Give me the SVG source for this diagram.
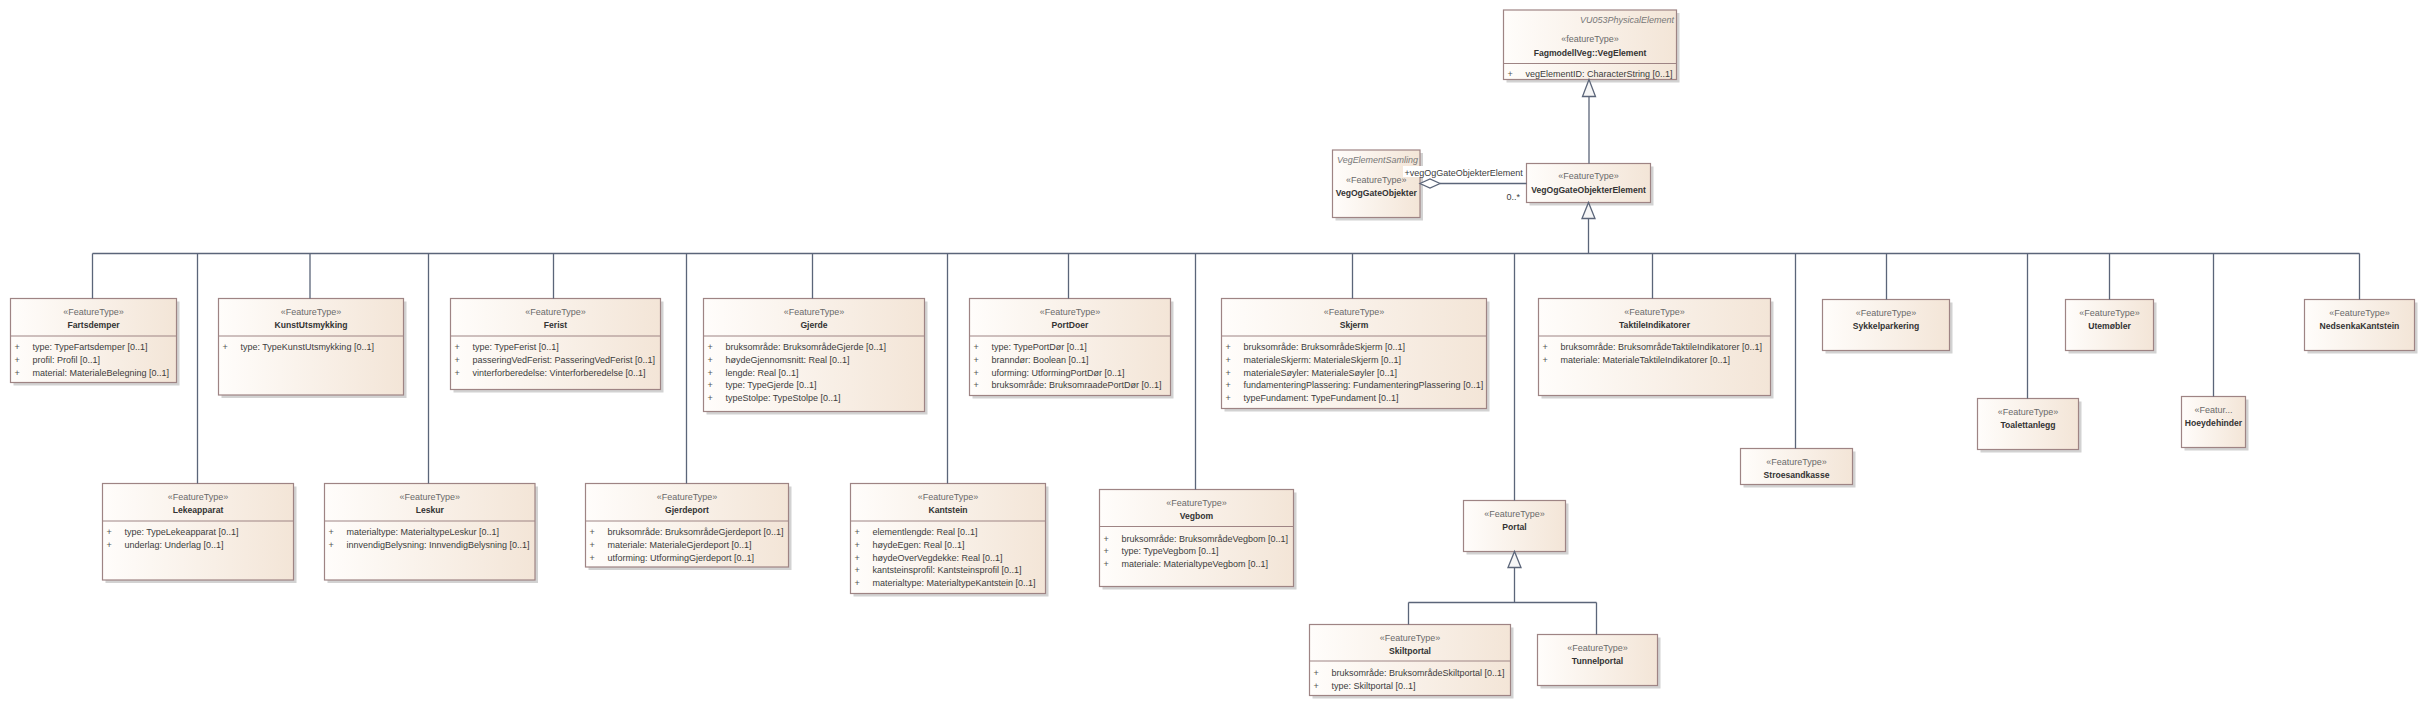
<svg xmlns="http://www.w3.org/2000/svg" width="2425" height="706" viewBox="0 0 2425 706">
<defs>
<linearGradient id="g" x1="0" y1="0" x2="1" y2="0">
<stop offset="0" stop-color="#FFFDFB"/>
<stop offset="1" stop-color="#F3E5D7"/>
</linearGradient>
</defs>
<style>
text{font-family:"Liberation Sans",Arial,sans-serif;font-size:9px;fill:#3C3C3C}
.sh{fill:#D2D2D2}
.bx{fill:url(#g);stroke:#9E8484;stroke-width:1.2}
.sp{stroke:#9E8484;stroke-width:1}
.st{text-anchor:middle;fill:#6A6A6A}
.nm{text-anchor:middle;font-weight:bold;font-size:8.6px;fill:#333}
.tg{text-anchor:end;font-style:italic;fill:#777}
.pl{fill:#555}
.ln{fill:none;stroke:#5B6579;stroke-width:1.3}
.tri{fill:#F6F6F6;stroke:#5B6579;stroke-width:1.3}
</style>
<rect width="2425" height="706" fill="#FFFFFF"/>

<g id="VegElement">
<rect class="sh" x="1506.5" y="13" width="173" height="69.5"/>
<rect class="bx" x="1503.5" y="10" width="173" height="69.5"/>
<line class="sp" x1="1503.5" y1="63.5" x2="1676.5" y2="63.5"/>
<text class="tg" x="1674" y="23">VU053PhysicalElement</text>
<text class="st" x="1590" y="42">«featureType»</text>
<text class="nm" x="1590" y="55.5">FagmodellVeg::VegElement</text>
<text class="pl" x="1507.5" y="77">+</text><text x="1525.5" y="77">vegElementID: CharacterString [0..1]</text>
</g>

<g id="VegOgGateObjekter">
<rect class="sh" x="1335.5" y="153" width="87.5" height="67.5"/>
<rect class="bx" x="1332.5" y="150" width="87.5" height="67.5"/>
<text class="tg" x="1418" y="163" textLength="81" lengthAdjust="spacingAndGlyphs">VegElementSamling</text>
<text class="st" x="1376.25" y="182.5">«FeatureType»</text>
<text class="nm" x="1376.25" y="195.5">VegOgGateObjekter</text>
</g>

<g id="VegOgGateObjekterElement">
<rect class="sh" x="1529.5" y="166.5" width="124" height="39"/>
<rect class="bx" x="1526.5" y="163.5" width="124" height="39"/>
<text class="st" x="1588.5" y="179">«FeatureType»</text>
<text class="nm" x="1588.5" y="192.5">VegOgGateObjekterElement</text>
</g>

<g id="Fartsdemper">
<rect class="sh" x="13.5" y="301.5" width="166" height="84"/>
<rect class="bx" x="10.5" y="298.5" width="166" height="84"/>
<line class="sp" x1="10.5" y1="336" x2="176.5" y2="336"/>
<text class="st" x="93.5" y="314.5">«FeatureType»</text>
<text class="nm" x="93.5" y="327.5">Fartsdemper</text>
<text class="pl" x="14.5" y="350">+</text><text x="32.5" y="350">type: TypeFartsdemper [0..1]</text>
<text class="pl" x="14.5" y="362.8">+</text><text x="32.5" y="362.8">profil: Profil [0..1]</text>
<text class="pl" x="14.5" y="375.6">+</text><text x="32.5" y="375.6">material: MaterialeBelegning [0..1]</text>
</g>

<g id="KunstUtsmykking">
<rect class="sh" x="221.5" y="301.5" width="185" height="96.5"/>
<rect class="bx" x="218.5" y="298.5" width="185" height="96.5"/>
<line class="sp" x1="218.5" y1="336" x2="403.5" y2="336"/>
<text class="st" x="311" y="314.5">«FeatureType»</text>
<text class="nm" x="311" y="327.5">KunstUtsmykking</text>
<text class="pl" x="222.5" y="350">+</text><text x="240.5" y="350">type: TypeKunstUtsmykking [0..1]</text>
</g>

<g id="Ferist">
<rect class="sh" x="453.5" y="301.5" width="210" height="91"/>
<rect class="bx" x="450.5" y="298.5" width="210" height="91"/>
<line class="sp" x1="450.5" y1="336" x2="660.5" y2="336"/>
<text class="st" x="555.5" y="314.5">«FeatureType»</text>
<text class="nm" x="555.5" y="327.5">Ferist</text>
<text class="pl" x="454.5" y="350">+</text><text x="472.5" y="350">type: TypeFerist [0..1]</text>
<text class="pl" x="454.5" y="362.8">+</text><text x="472.5" y="362.8">passeringVedFerist: PasseringVedFerist [0..1]</text>
<text class="pl" x="454.5" y="375.6">+</text><text x="472.5" y="375.6">vinterforberedelse: Vinterforberedelse [0..1]</text>
</g>

<g id="Gjerde">
<rect class="sh" x="706.5" y="301.5" width="221" height="113"/>
<rect class="bx" x="703.5" y="298.5" width="221" height="113"/>
<line class="sp" x1="703.5" y1="336" x2="924.5" y2="336"/>
<text class="st" x="814" y="314.5">«FeatureType»</text>
<text class="nm" x="814" y="327.5">Gjerde</text>
<text class="pl" x="707.5" y="350">+</text><text x="725.5" y="350">bruksområde: BruksområdeGjerde [0..1]</text>
<text class="pl" x="707.5" y="362.8">+</text><text x="725.5" y="362.8">høydeGjennomsnitt: Real [0..1]</text>
<text class="pl" x="707.5" y="375.6">+</text><text x="725.5" y="375.6">lengde: Real [0..1]</text>
<text class="pl" x="707.5" y="388.4">+</text><text x="725.5" y="388.4">type: TypeGjerde [0..1]</text>
<text class="pl" x="707.5" y="401.2">+</text><text x="725.5" y="401.2">typeStolpe: TypeStolpe [0..1]</text>
</g>

<g id="PortDoer">
<rect class="sh" x="972.5" y="301.5" width="201" height="97"/>
<rect class="bx" x="969.5" y="298.5" width="201" height="97"/>
<line class="sp" x1="969.5" y1="336" x2="1170.5" y2="336"/>
<text class="st" x="1070" y="314.5">«FeatureType»</text>
<text class="nm" x="1070" y="327.5">PortDoer</text>
<text class="pl" x="973.5" y="350">+</text><text x="991.5" y="350">type: TypePortDør [0..1]</text>
<text class="pl" x="973.5" y="362.8">+</text><text x="991.5" y="362.8">branndør: Boolean [0..1]</text>
<text class="pl" x="973.5" y="375.6">+</text><text x="991.5" y="375.6">uforming: UtformingPortDør [0..1]</text>
<text class="pl" x="973.5" y="388.4">+</text><text x="991.5" y="388.4">bruksområde: BruksomraadePortDør [0..1]</text>
</g>

<g id="Skjerm">
<rect class="sh" x="1224.5" y="301.5" width="265" height="110"/>
<rect class="bx" x="1221.5" y="298.5" width="265" height="110"/>
<line class="sp" x1="1221.5" y1="336" x2="1486.5" y2="336"/>
<text class="st" x="1354" y="314.5">«FeatureType»</text>
<text class="nm" x="1354" y="327.5">Skjerm</text>
<text class="pl" x="1225.5" y="350">+</text><text x="1243.5" y="350">bruksområde: BruksområdeSkjerm [0..1]</text>
<text class="pl" x="1225.5" y="362.8">+</text><text x="1243.5" y="362.8">materialeSkjerm: MaterialeSkjerm [0..1]</text>
<text class="pl" x="1225.5" y="375.6">+</text><text x="1243.5" y="375.6">materialeSøyler: MaterialeSøyler [0..1]</text>
<text class="pl" x="1225.5" y="388.4">+</text><text x="1243.5" y="388.4">fundamenteringPlassering: FundamenteringPlassering [0..1]</text>
<text class="pl" x="1225.5" y="401.2">+</text><text x="1243.5" y="401.2">typeFundament: TypeFundament [0..1]</text>
</g>

<g id="TaktileIndikatorer">
<rect class="sh" x="1541.5" y="301.5" width="232" height="97"/>
<rect class="bx" x="1538.5" y="298.5" width="232" height="97"/>
<line class="sp" x1="1538.5" y1="336" x2="1770.5" y2="336"/>
<text class="st" x="1654.5" y="314.5">«FeatureType»</text>
<text class="nm" x="1654.5" y="327.5">TaktileIndikatorer</text>
<text class="pl" x="1542.5" y="350">+</text><text x="1560.5" y="350">bruksområde: BruksområdeTaktileIndikatorer [0..1]</text>
<text class="pl" x="1542.5" y="362.8">+</text><text x="1560.5" y="362.8">materiale: MaterialeTaktileIndikatorer [0..1]</text>
</g>

<g id="Sykkelparkering">
<rect class="sh" x="1825.5" y="302.5" width="127" height="51"/>
<rect class="bx" x="1822.5" y="299.5" width="127" height="51"/>
<text class="st" x="1886" y="315.5">«FeatureType»</text>
<text class="nm" x="1886" y="328.5">Sykkelparkering</text>
</g>

<g id="Utemobler">
<rect class="sh" x="2068.5" y="302.5" width="88" height="51"/>
<rect class="bx" x="2065.5" y="299.5" width="88" height="51"/>
<text class="st" x="2109.5" y="315.5">«FeatureType»</text>
<text class="nm" x="2109.5" y="328.5">Utemøbler</text>
</g>

<g id="NedsenkaKantstein">
<rect class="sh" x="2307.5" y="302.5" width="110" height="51"/>
<rect class="bx" x="2304.5" y="299.5" width="110" height="51"/>
<text class="st" x="2359.5" y="315.5">«FeatureType»</text>
<text class="nm" x="2359.5" y="328.5">NedsenkaKantstein</text>
</g>

<g id="Lekeapparat">
<rect class="sh" x="105.5" y="486.5" width="191" height="96.5"/>
<rect class="bx" x="102.5" y="483.5" width="191" height="96.5"/>
<line class="sp" x1="102.5" y1="521" x2="293.5" y2="521"/>
<text class="st" x="198" y="499.5">«FeatureType»</text>
<text class="nm" x="198" y="512.5">Lekeapparat</text>
<text class="pl" x="106.5" y="535">+</text><text x="124.5" y="535">type: TypeLekeapparat [0..1]</text>
<text class="pl" x="106.5" y="547.8">+</text><text x="124.5" y="547.8">underlag: Underlag [0..1]</text>
</g>

<g id="Leskur">
<rect class="sh" x="327.5" y="486.5" width="210.5" height="96.5"/>
<rect class="bx" x="324.5" y="483.5" width="210.5" height="96.5"/>
<line class="sp" x1="324.5" y1="521" x2="535" y2="521"/>
<text class="st" x="429.75" y="499.5">«FeatureType»</text>
<text class="nm" x="429.75" y="512.5">Leskur</text>
<text class="pl" x="328.5" y="535">+</text><text x="346.5" y="535">materialtype: MaterialtypeLeskur [0..1]</text>
<text class="pl" x="328.5" y="547.8">+</text><text x="346.5" y="547.8">innvendigBelysning: InnvendigBelysning [0..1]</text>
</g>

<g id="Gjerdeport">
<rect class="sh" x="588.5" y="486.5" width="203" height="83.5"/>
<rect class="bx" x="585.5" y="483.5" width="203" height="83.5"/>
<line class="sp" x1="585.5" y1="521" x2="788.5" y2="521"/>
<text class="st" x="687" y="499.5">«FeatureType»</text>
<text class="nm" x="687" y="512.5">Gjerdeport</text>
<text class="pl" x="589.5" y="535">+</text><text x="607.5" y="535">bruksområde: BruksområdeGjerdeport [0..1]</text>
<text class="pl" x="589.5" y="547.8">+</text><text x="607.5" y="547.8">materiale: MaterialeGjerdeport [0..1]</text>
<text class="pl" x="589.5" y="560.6">+</text><text x="607.5" y="560.6">utforming: UtformingGjerdeport [0..1]</text>
</g>

<g id="Kantstein">
<rect class="sh" x="853.5" y="486.5" width="195" height="110"/>
<rect class="bx" x="850.5" y="483.5" width="195" height="110"/>
<line class="sp" x1="850.5" y1="521" x2="1045.5" y2="521"/>
<text class="st" x="948" y="499.5">«FeatureType»</text>
<text class="nm" x="948" y="512.5">Kantstein</text>
<text class="pl" x="854.5" y="535">+</text><text x="872.5" y="535">elementlengde: Real [0..1]</text>
<text class="pl" x="854.5" y="547.8">+</text><text x="872.5" y="547.8">høydeEgen: Real [0..1]</text>
<text class="pl" x="854.5" y="560.6">+</text><text x="872.5" y="560.6">høydeOverVegdekke: Real [0..1]</text>
<text class="pl" x="854.5" y="573.4">+</text><text x="872.5" y="573.4">kantsteinsprofil: Kantsteinsprofil [0..1]</text>
<text class="pl" x="854.5" y="586.2">+</text><text x="872.5" y="586.2">materialtype: MaterialtypeKantstein [0..1]</text>
</g>

<g id="Vegbom">
<rect class="sh" x="1102.5" y="492.5" width="194" height="97"/>
<rect class="bx" x="1099.5" y="489.5" width="194" height="97"/>
<line class="sp" x1="1099.5" y1="526.5" x2="1293.5" y2="526.5"/>
<text class="st" x="1196.5" y="506">«FeatureType»</text>
<text class="nm" x="1196.5" y="519">Vegbom</text>
<text class="pl" x="1103.5" y="541.5">+</text><text x="1121.5" y="541.5">bruksområde: BruksområdeVegbom [0..1]</text>
<text class="pl" x="1103.5" y="554.3">+</text><text x="1121.5" y="554.3">type: TypeVegbom [0..1]</text>
<text class="pl" x="1103.5" y="567.1">+</text><text x="1121.5" y="567.1">materiale: MaterialtypeVegbom [0..1]</text>
</g>

<g id="Portal">
<rect class="sh" x="1466.5" y="503.5" width="102" height="51"/>
<rect class="bx" x="1463.5" y="500.5" width="102" height="51"/>
<text class="st" x="1514.5" y="516.5">«FeatureType»</text>
<text class="nm" x="1514.5" y="529.5">Portal</text>
</g>

<g id="Skiltportal">
<rect class="sh" x="1312.5" y="627.5" width="201" height="71"/>
<rect class="bx" x="1309.5" y="624.5" width="201" height="71"/>
<line class="sp" x1="1309.5" y1="661" x2="1510.5" y2="661"/>
<text class="st" x="1410" y="640.5">«FeatureType»</text>
<text class="nm" x="1410" y="653.5">Skiltportal</text>
<text class="pl" x="1313.5" y="675.8">+</text><text x="1331.5" y="675.8">bruksområde: BruksområdeSkiltportal [0..1]</text>
<text class="pl" x="1313.5" y="688.6">+</text><text x="1331.5" y="688.6">type: Skiltportal [0..1]</text>
</g>

<g id="Tunnelportal">
<rect class="sh" x="1540.5" y="637.5" width="120" height="51"/>
<rect class="bx" x="1537.5" y="634.5" width="120" height="51"/>
<text class="st" x="1597.5" y="650.5">«FeatureType»</text>
<text class="nm" x="1597.5" y="663.5">Tunnelportal</text>
</g>

<g id="Stroesandkasse">
<rect class="sh" x="1743.5" y="451.5" width="112" height="36"/>
<rect class="bx" x="1740.5" y="448.5" width="112" height="36"/>
<text class="st" x="1796.5" y="464.5">«FeatureType»</text>
<text class="nm" x="1796.5" y="477.5">Stroesandkasse</text>
</g>

<g id="Toalettanlegg">
<rect class="sh" x="1980.5" y="401.5" width="101" height="51"/>
<rect class="bx" x="1977.5" y="398.5" width="101" height="51"/>
<text class="st" x="2028" y="414.5">«FeatureType»</text>
<text class="nm" x="2028" y="427.5">Toalettanlegg</text>
</g>

<g id="Hoeydehinder">
<rect class="sh" x="2184.5" y="399.5" width="64" height="51"/>
<rect class="bx" x="2181.5" y="396.5" width="64" height="51"/>
<text class="st" x="2213.5" y="412.5">«Featur...</text>
<text class="nm" x="2213.5" y="425.5">Hoeydehinder</text>
</g>

<g id="connectors">
<path class="ln" d="M1589 163.5 V96.5"/>
<polygon class="tri" points="1589,79.5 1582.5,96.5 1595.5,96.5"/>
<path class="ln" d="M1440 183.5 H1526.5"/>
<polygon class="tri" points="1420,183.5 1430,179 1440,183.5 1430,188" style="fill:#FFFFFF"/>
<rect x="1403" y="166" width="120" height="11" fill="#FFFFFF"/>
<text x="1404.5" y="175.5">+vegOgGateObjekterElement</text>
<text x="1506.5" y="200">0..*</text>
<path class="ln" d="M1588.5 218.5 V253.5 M92.5 253.5 H2359.5"/>
<polygon class="tri" points="1588.5,202.5 1582,218.5 1595,218.5"/>
<path class="ln" d="M92.5 253.5 V298.5 M197.5 253.5 V483.5 M310 253.5 V298.5 M428.5 253.5 V483.5 M553.5 253.5 V298.5 M686.5 253.5 V483.5 M812.5 253.5 V298.5 M947.5 253.5 V483.5 M1068.5 253.5 V298.5 M1195.5 253.5 V489.5 M1352.5 253.5 V298.5 M1514.5 253.5 V500.5 M1652.5 253.5 V298.5 M1795.5 253.5 V448.5 M1886.5 253.5 V299.5 M2027.5 253.5 V398.5 M2109.5 253.5 V299.5 M2213.5 253.5 V396.5 M2359.5 253.5 V299.5"/>
<path class="ln" d="M1514.5 567.5 V602.5 M1408.5 602.5 H1596.5 M1408.5 602.5 V624.5 M1596.5 602.5 V634.5"/>
<polygon class="tri" points="1514.5,551.5 1508,567.5 1521,567.5"/>
</g>
</svg>
